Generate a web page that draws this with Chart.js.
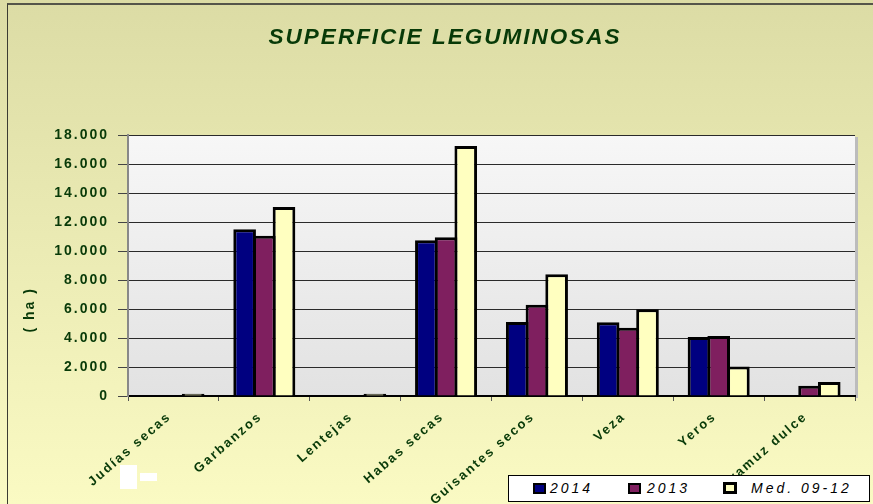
<!DOCTYPE html>
<html>
<head>
<meta charset="utf-8">
<script src="https://cdn.jsdelivr.net/npm/chart.js@4.4.0/dist/chart.umd.min.js"></script>
<style>
html,body{margin:0;padding:0;background:#fff;}
#wrap{position:relative;width:873px;height:504px;overflow:hidden;background:linear-gradient(#dcdca5,#fafac3);}
#frame{position:absolute;left:7px;top:3px;right:-5px;bottom:-5px;border-left:1px solid #3c3c32;border-top:2px solid #55554a;pointer-events:none;}
#chart{position:absolute;left:0;top:0;}
#legend{position:absolute;left:508px;top:475px;width:360px;height:25px;background:#fff;border:1.5px solid #000;font:italic 14px "Liberation Sans",Arial,sans-serif;letter-spacing:3px;color:#000;}
.item{position:absolute;top:0;height:25px;line-height:25px;white-space:nowrap;}
.sw{display:inline-block;width:9px;height:7px;border:2px solid #000;vertical-align:middle;margin-right:4px;position:relative;top:-1px;}
.blk{position:absolute;background:#fff;}
</style>
</head>
<body>
<div id="wrap">
  <canvas id="chart" width="873" height="504"></canvas>
  <div id="frame"></div>
  <div class="blk" style="left:120px;top:465px;width:17px;height:24px;"></div>
  <div class="blk" style="left:140px;top:473px;width:17px;height:8px;"></div>
  <div id="legend"></div>
</div>
<script>
// ---- data ----
const categories = ['Judías secas','Garbanzos','Lentejas','Habas secas','Guisantes secos','Veza','Yeros','Altramuz dulce'];
const seriesNames = ['2014','2013','Med. 09-12'];
const values2014 = [0, 11500, 50, 10750, 5100, 5080, 4070, 0];
const values2013 = [50, 11050, 50, 10950, 6300, 4700, 4130, 700];
const valuesMed  = [150, 13030, 150, 17250, 8400, 5980, 2030, 970];
const yMin = 0, yMax = 18000, yStep = 2000;
const chartTitle = 'SUPERFICIE LEGUMINOSAS';
const yAxisTitle = '( ha )';

const seriesColors = ['#000080', '#7f1f5f', '#ffffc0'];
const seriesValues = [values2014, values2013, valuesMed];
const green = '#083a08';
const FONT = '"Liberation Sans", Arial, sans-serif';

function fmt(v){ return String(v).replace(/\B(?=(\d{3})+(?!\d))/g, '.'); }

const SP = '2px';
const spacingPlugin = {
  id: 'spacing',
  beforeUpdate(chart){ chart.ctx.letterSpacing = SP; },
  beforeLayout(chart){ chart.ctx.letterSpacing = SP; },
  beforeDraw(chart){ chart.ctx.letterSpacing = SP; }
};

const plotBg = {
  id: 'plotBg',
  beforeDraw(chart){
    const {ctx, chartArea:a} = chart;
    ctx.save();
    const g = ctx.createLinearGradient(0, a.top, 0, a.bottom);
    g.addColorStop(0, '#f7f7f7');
    g.addColorStop(1, '#e2e2e2');
    ctx.fillStyle = g;
    ctx.fillRect(a.left, a.top, a.right - a.left, a.bottom - a.top);
    ctx.fillStyle = '#bcbcbc';
    ctx.fillRect(a.right, a.top + 2, 3, a.bottom - a.top);
    ctx.restore();
  }
};

const yTitlePlugin = {
  id: 'yTitle',
  afterDraw(chart){
    const {ctx, chartArea:a} = chart;
    ctx.save();
    ctx.letterSpacing = '2px';
    ctx.font = 'bold 14px ' + FONT;
    ctx.fillStyle = green;
    ctx.textAlign = 'center';
    ctx.textBaseline = 'middle';
    ctx.translate(a.left - 98, a.top + (a.bottom - a.top) * 0.67);
    ctx.rotate(-Math.PI/2);
    ctx.fillText(yAxisTitle, 0, 0);
    ctx.restore();
  }
};

const datasets = seriesNames.map((n, i) => ({
  label: n,
  data: seriesValues[i],
  backgroundColor: seriesColors[i],
  borderColor: '#000',
  borderWidth: 3,
  borderSkipped: 'start',
  categoryPercentage: 0.65,
  barPercentage: 1.15
}));

new Chart(document.getElementById('chart'), {
  type: 'bar',
  data: { labels: categories, datasets },
  plugins: [spacingPlugin, plotBg, yTitlePlugin],
  options: {
    responsive: false,
    animation: false,
    devicePixelRatio: 1,
    layout: { padding: { left: 35, right: 18, top: 0, bottom: 0 } },
    plugins: {
      legend: { display: false },
      tooltip: { enabled: false },
      title: {
        display: true,
        text: chartTitle,
        color: green,
        font: { family: FONT, size: 22.5, weight: 'bold', style: 'italic' },
        padding: { top: 24, bottom: 84 }
      }
    },
    scales: {
      x: {
        offset: true,
        grid: { display: true, drawOnChartArea: false, drawTicks: true, tickLength: 5, tickColor: '#555', offset: true },
        border: { color: '#000', width: 2 },
        ticks: {
          color: green,
          font: { family: FONT, size: 13, weight: 'bold' },
          minRotation: 41, maxRotation: 41, autoSkip: false, padding: 8, labelOffset: -4
        },
        afterFit(s){ s.height = 108; }
      },
      y: {
        min: yMin, max: yMax,
        ticks: {
          stepSize: yStep,
          color: green,
          font: { family: FONT, size: 14, weight: 'bold' },
          padding: 9,
          callback: v => fmt(v)
        },
        grid: { color: '#2a2a2a', lineWidth: 1, tickLength: 10, tickColor: '#444' },
        border: { color: '#888', width: 2 },
        afterFit(s){ s.width = 93; }
      }
    }
  }
});

// HTML legend built from the series arrays
const legend = document.getElementById('legend');
const itemLeft = [24, 119, 214];
const textGap = [4, 6, 14];
seriesNames.forEach((n, i) => {
  const it = document.createElement('div');
  it.className = 'item';
  it.style.left = itemLeft[i] + 'px';
  const sw = document.createElement('span');
  sw.className = 'sw';
  sw.style.background = seriesColors[i];
  sw.style.marginRight = textGap[i] + 'px';
  if (i === 2) { sw.style.borderWidth = '3px'; sw.style.width = '8px'; sw.style.height = '6px'; }
  it.appendChild(sw);
  it.appendChild(document.createTextNode(n));
  legend.appendChild(it);
});
</script>
</body>
</html>
